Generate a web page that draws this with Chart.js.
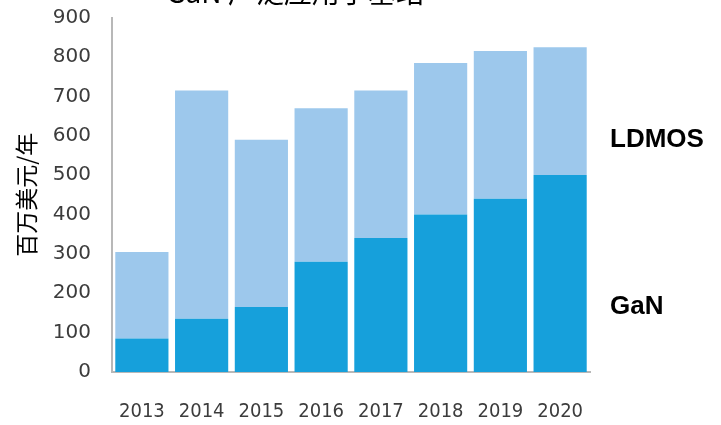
<!DOCTYPE html>
<html>
<head>
<meta charset="utf-8">
<script src="https://cdn.jsdelivr.net/npm/chart.js@4/dist/chart.umd.min.js"></script>
<style>
  html, body { margin: 0; padding: 0; background: #fff; overflow: hidden; }
  #wrap { position: absolute; left: 0; top: -24px; width: 721px; height: 449px; }
</style>
</head>
<body>
<div id="wrap"><canvas id="c" width="721" height="449"></canvas></div>
<script>
const chartTitle = 'GaN 广泛应用于基站';
const yAxisTitle = '百万美元/年';
const years = ['2013', '2014', '2015', '2016', '2017', '2018', '2019', '2020'];
const ganValues = [85, 135, 165, 280, 340, 400, 440, 500];
const ldmosValues = [220, 580, 425, 390, 375, 385, 375, 325];
const seriesNames = ['GaN', 'LDMOS'];
const labelValues = [165, 590]; // y positions (in data units) of the side labels
const yTicks = { min: 0, max: 900, step: 100 };

const sideLabels = {
  id: 'sideLabels',
  afterDraw(chart) {
    const ctx = chart.ctx;
    const y = chart.scales.y;
    ctx.save();
    ctx.font = 'bold 26px "Liberation Sans", Arial, sans-serif';
    ctx.fillStyle = '#000';
    ctx.textAlign = 'left';
    ctx.textBaseline = 'middle';
    seriesNames.forEach((n, i) => {
      ctx.fillText(n, chart.chartArea.right + 20, y.getPixelForValue(labelValues[i]));
    });
    ctx.restore();
  }
};

new Chart(document.getElementById('c'), {
  type: 'bar',
  data: {
    labels: years,
    datasets: [
      { label: seriesNames[0], data: ganValues, backgroundColor: '#16a0db', borderWidth: 0 },
      { label: seriesNames[1], data: ldmosValues, backgroundColor: '#9dc8ec', borderWidth: 0 }
    ]
  },
  options: {
    responsive: false,
    animation: false,
    devicePixelRatio: 1,
    layout: { padding: { left: 0, right: 131, top: 0, bottom: 0 } },
    datasets: { bar: { categoryPercentage: 1, barPercentage: 0.89 } },
    plugins: {
      legend: { display: false },
      tooltip: { enabled: false },
      title: {
        display: true,
        text: chartTitle,
        color: '#000',
        font: { family: '"Noto Sans CJK SC", sans-serif', size: 28, weight: 'normal', lineHeight: 1.2 },
        padding: { top: 0, bottom: 8 }
      }
    },
    scales: {
      x: {
        stacked: true,
        grid: { display: false, drawTicks: false },
        border: { display: true, color: '#b8b8b8', width: 2 },
        ticks: {
          color: '#3c3c3c',
          font: { family: '"DejaVu Sans Condensed", "DejaVu Sans", sans-serif', size: 20 },
          padding: 28,
          maxRotation: 0
        },
        afterFit(s) { s.height = 53; }
      },
      y: {
        stacked: true,
        min: yTicks.min,
        max: yTicks.max,
        grid: { display: false, drawTicks: false },
        border: { display: true, color: '#b8b8b8', width: 2 },
        ticks: {
          stepSize: yTicks.step,
          color: '#3c3c3c',
          font: { family: '"DejaVu Sans", sans-serif', size: 20 },
          padding: 21
        },
        title: {
          display: true,
          text: yAxisTitle,
          color: '#000',
          font: { family: '"Noto Sans CJK SC", sans-serif', size: 23 },
          padding: { top: 12, bottom: 0 }
        },
        afterFit(s) { s.width = 112; }
      }
    }
  },
  plugins: [sideLabels]
});
</script>
</body>
</html>
